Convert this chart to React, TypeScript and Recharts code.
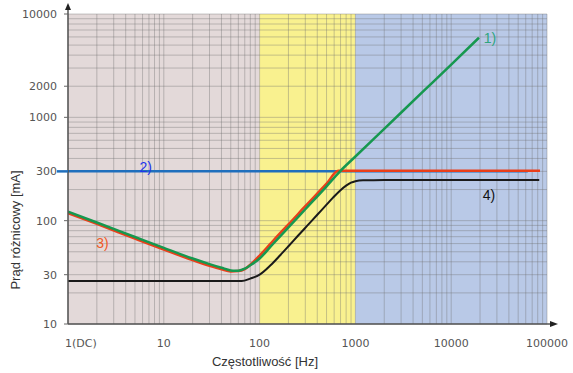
import React from "react";
import {
  LineChart,
  Line,
  XAxis,
  YAxis,
  CartesianGrid,
  ReferenceArea,
  ReferenceDot,
} from "recharts";

// grid ticks (every log step) and the labelled ones
const xTicks = [
  1, 2, 3, 4, 5, 6, 7, 8, 9, 10, 20, 30, 40, 50, 60, 70, 80, 90, 100, 200,
  300, 400, 500, 600, 700, 800, 900, 1000, 2000, 3000, 4000, 5000, 6000, 7000,
  8000, 9000, 10000, 20000, 30000, 40000, 50000, 60000, 70000, 80000, 90000,
  100000,
];
const yTicks = [
  10, 20, 30, 40, 50, 60, 70, 80, 90, 100, 200, 300, 400, 500, 600, 700, 800,
  900, 1000, 2000, 3000, 4000, 5000, 6000, 7000, 8000, 9000, 10000,
];
const xLabelValues = [1, 10, 100, 1000, 10000, 100000];
const xLabelTexts = ["1(DC)", "10", "100", "1000", "10000", "100000"];
const yLabelValues = [10, 30, 100, 300, 1000, 2000, 10000];

// frequency bands
const bandFrom = [1, 100, 1000];
const bandTo = [100, 1000, 100000];
const bandColors = ["#e3d9d9", "#f9f18f", "#b9c9e7"];

// 1) green
const greenFreq = [1, 2, 5, 10, 20, 30, 40, 50, 55, 60, 70, 80, 100, 130, 160, 200, 300, 500, 690, 1000, 2000, 5000, 10000, 19500];
const greenVal = [122, 96, 69.5, 54.5, 43, 38, 35, 33, 32.7, 32.8, 34.3, 37, 43, 56, 69, 86, 129, 215, 300, 418, 774, 1750, 3240, 5900];

// 2) blue
const blueFreq = [1, 63000];
const blueVal = [300, 300];

// 3) red
const redFreq = [1, 2, 5, 10, 20, 30, 40, 50, 60, 70, 80, 100, 130, 160, 200, 300, 500, 663, 1000, 5000, 20000, 84500];
const redVal = [118, 93, 67, 52.5, 41.5, 36.5, 33.8, 32.3, 32.5, 34, 37.5, 46, 60, 74, 92, 138, 228, 304, 304, 304, 304, 304];

// 4) black
const blackFreq = [1, 10, 40, 65, 80, 100, 130, 163, 200, 250, 311, 400, 500, 584, 690, 800, 900, 1000, 1200, 2000, 10000, 83000];
const blackVal = [26, 26, 26, 26, 27.5, 30, 37, 46, 56.5, 71, 88.5, 114, 143, 167, 195, 218, 233, 241, 246, 247, 247, 247];

const toData = (f: number[], v: number[]) => f.map((x, i) => ({ f: x, v: v[i] }));
const greenData = toData(greenFreq, greenVal);
const blueData = toData(blueFreq, blueVal);
const redData = toData(redFreq, redVal);
const blackData = toData(blackFreq, blackVal);

const tickFont = { fontFamily: "DejaVu Sans", fontSize: 11, fill: "#555" };

function XTick(props: any) {
  const { x, y, payload } = props;
  const i = xLabelValues.indexOf(payload.value);
  if (i < 0) return <g />;
  const first = i === 0;
  return (
    <text
      x={first ? x - 3 : x}
      y={y + 23}
      textAnchor={first ? "start" : "middle"}
      {...tickFont}
    >
      {xLabelTexts[i]}
    </text>
  );
}

function YTick(props: any) {
  const { x, y, payload } = props;
  if (!yLabelValues.includes(payload.value)) return <g />;
  const is300 = payload.value === 300;
  return (
    <g>
      {is300 ? (
        <line x1={x - 11} x2={x} y1={y} y2={y} stroke="#1f6fbd" strokeWidth={2.5} />
      ) : (
        <line x1={x - 4} x2={x} y1={y} y2={y} stroke="#666" strokeWidth={1} />
      )}
      <text x={x - 11} y={y + 4} textAnchor="end" {...tickFont}>
        {payload.value}
      </text>
    </g>
  );
}

const labelFont = "Liberation Sans, Arial, sans-serif";

export default function App() {
  return (
    <div
      style={{
        position: "absolute",
        left: 0,
        top: 0,
        width: 573,
        height: 373,
        background: "#fff",
        fontFamily: labelFont,
      }}
    >
      <LineChart
        width={573}
        height={373}
        margin={{ top: 14, right: 26, bottom: 0, left: 0 }}
      >
        <XAxis
          type="number"
          dataKey="f"
          scale="log"
          domain={[1, 100000]}
          ticks={xTicks}
          interval={0}
          height={49}
          tickSize={0}
          tickMargin={0}
          tickLine={false}
          tick={<XTick />}
          axisLine={{ stroke: "#555", strokeWidth: 1.5 }}
          allowDataOverflow
        />
        <YAxis
          type="number"
          scale="log"
          domain={[10, 10000]}
          ticks={yTicks}
          interval={0}
          width={68}
          tickSize={0}
          tickMargin={0}
          tickLine={false}
          tick={<YTick />}
          axisLine={{ stroke: "#555", strokeWidth: 1.5 }}
          allowDataOverflow
        />
        {bandFrom.map((b, i) => (
          <ReferenceArea
            key={`band-${i}`}
            x1={b}
            x2={bandTo[i]}
            y1={10}
            y2={10000}
            fill={bandColors[i]}
            fillOpacity={1}
            stroke="none"
            zIndex={-200}
          />
        ))}
        <CartesianGrid
          stroke="#6e6e6e"
          strokeOpacity={0.38}
          strokeWidth={1}
          zIndex={-100}
        />
        <Line data={blueData} dataKey="v" type="linear" stroke="#1f6fbd" strokeWidth={2.5} dot={false} isAnimationActive={false} />
        <Line data={blackData} dataKey="v" type="monotone" stroke="#1a1a1a" strokeWidth={2} dot={false} isAnimationActive={false} />
        <Line data={redData} dataKey="v" type="monotone" stroke="#ea3f1a" strokeWidth={2.5} dot={false} isAnimationActive={false} />
        <Line data={greenData} dataKey="v" type="monotone" stroke="#16984f" strokeWidth={2.5} dot={false} isAnimationActive={false} />
        <ReferenceDot x={25400} y={5860} r={0} fill="none" stroke="none"
          label={{ value: "1)", position: "center", fill: "#2ea57e", fontSize: 14, fontFamily: labelFont }} />
        <ReferenceDot x={6.47} y={332} r={0} fill="none" stroke="none"
          label={{ value: "2)", position: "center", fill: "#1f35ec", fontSize: 14, fontFamily: labelFont }} />
        <ReferenceDot x={2.29} y={60.3} r={0} fill="none" stroke="none"
          label={{ value: "3)", position: "center", fill: "#f05a28", fontSize: 14, fontFamily: labelFont }} />
        <ReferenceDot x={24800} y={177} r={0} fill="none" stroke="none"
          label={{ value: "4)", position: "center", fill: "#111", fontSize: 14, fontFamily: labelFont }} />
      </LineChart>
      <svg
        width={573}
        height={373}
        style={{ position: "absolute", left: 0, top: 0, pointerEvents: "none" }}
      >
        <line x1={68} x2={68} y1={14} y2={8} stroke="#555" strokeWidth={1.5} />
        <polygon points="68,3 65,10 71,10" fill="#222" />
        <line x1={547} x2={552} y1={324} y2={324} stroke="#555" strokeWidth={1.5} />
        <polygon points="558,324 550,321 550,327" fill="#222" />
        <text x={265} y={366} textAnchor="middle" fontSize={13} fill="#333" fontFamily={labelFont}>
          Częstotliwość [Hz]
        </text>
        <text
          x={0}
          y={0}
          transform="translate(20,230) rotate(-90)"
          textAnchor="middle"
          fontSize={13}
          fill="#333"
          fontFamily={labelFont}
        >
          Prąd różnicowy [mA]
        </text>
      </svg>
    </div>
  );
}
